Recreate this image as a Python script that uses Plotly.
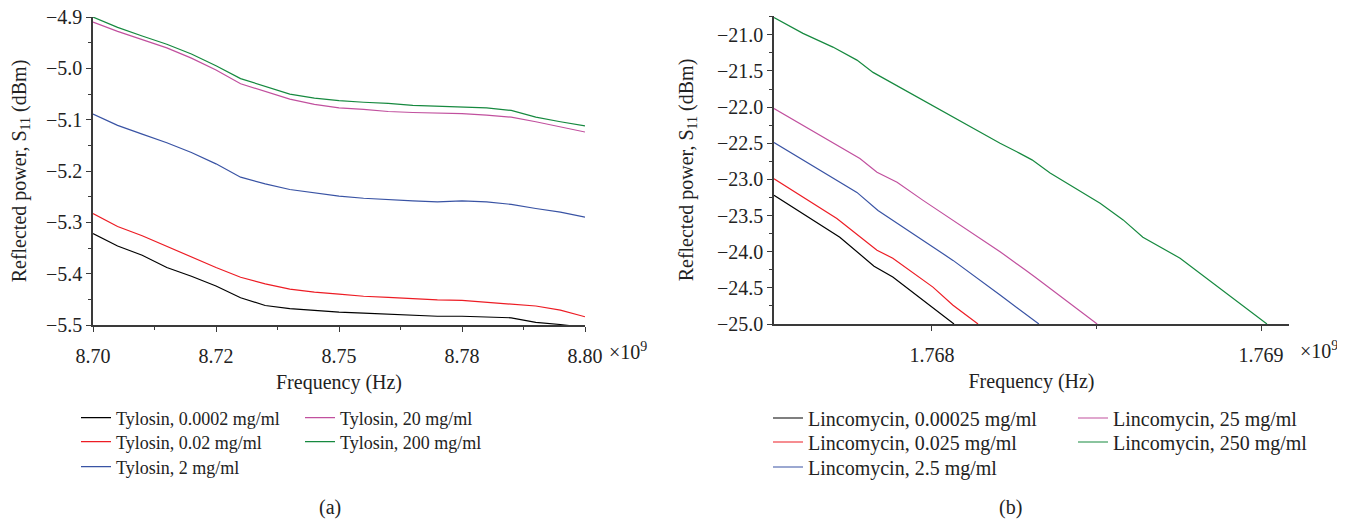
#################### Imports ####################
import plotly.graph_objects as go
from plotly.subplots import make_subplots

#################### Data ####################
# (a) Tylosin, frequency in units of 1e9 Hz
freq_a = [8.700, 8.705, 8.710, 8.715, 8.720, 8.725, 8.730, 8.735, 8.740, 8.745, 8.750,
          8.755, 8.760, 8.765, 8.770, 8.775, 8.780, 8.785, 8.790, 8.795, 8.800]
tyl_0p0002 = [-5.322, -5.346, -5.364, -5.388, -5.405, -5.424, -5.447, -5.462, -5.468, -5.472, -5.475,
              -5.477, -5.479, -5.481, -5.483, -5.483, -5.484, -5.486, -5.495, -5.499, -5.505]
tyl_0p02 = [-5.283, -5.308, -5.326, -5.347, -5.367, -5.388, -5.407, -5.420, -5.430, -5.436, -5.440,
            -5.444, -5.446, -5.449, -5.451, -5.452, -5.456, -5.459, -5.463, -5.471, -5.484]
tyl_2 = [-5.089, -5.111, -5.128, -5.145, -5.164, -5.186, -5.212, -5.225, -5.236, -5.243, -5.249,
         -5.253, -5.256, -5.258, -5.260, -5.258, -5.260, -5.265, -5.273, -5.280, -5.290]
tyl_20 = [-4.910, -4.928, -4.944, -4.960, -4.980, -5.003, -5.030, -5.045, -5.060, -5.070, -5.077,
          -5.080, -5.084, -5.086, -5.087, -5.088, -5.091, -5.095, -5.104, -5.114, -5.124]
tyl_200 = [-4.900, -4.920, -4.937, -4.953, -4.972, -4.995, -5.020, -5.035, -5.050, -5.058, -5.063,
           -5.066, -5.068, -5.072, -5.074, -5.075, -5.077, -5.082, -5.095, -5.104, -5.112]

# (b) Lincomycin
lin_0p00025_x = [1.767520, 1.767720, 1.767824, 1.767881, 1.768067]
lin_0p00025_y = [-23.22, -23.80, -24.20, -24.35, -25.00]
lin_0p025_x = [1.767520, 1.767711, 1.767833, 1.767881, 1.768003, 1.768064, 1.768140]
lin_0p025_y = [-22.99, -23.54, -23.98, -24.09, -24.49, -24.74, -25.00]
lin_2p5_x = [1.767520, 1.767660, 1.767772, 1.767836, 1.768064, 1.768207, 1.768267, 1.768325]
lin_2p5_y = [-22.49, -22.87, -23.18, -23.43, -24.12, -24.60, -24.80, -25.00]
lin_25_x = [1.767520, 1.767781, 1.767833, 1.767894, 1.767973, 1.768207, 1.768283, 1.768313, 1.768502]
lin_25_y = [-22.02, -22.71, -22.90, -23.04, -23.29, -24.00, -24.25, -24.35, -25.00]
lin_250_x = [1.767520, 1.767608, 1.767699, 1.767772, 1.767821, 1.768207, 1.768267, 1.768304,
             1.768359, 1.768410, 1.768511, 1.768581, 1.768641, 1.768754, 1.768815, 1.768936, 1.769018]
lin_250_y = [-20.76, -20.98, -21.17, -21.35, -21.52, -22.50, -22.64, -22.73,
             -22.91, -23.05, -23.33, -23.56, -23.80, -24.09, -24.30, -24.71, -25.00]

names_a = ["Tylosin, 0.0002 mg/ml", "Tylosin, 0.02 mg/ml", "Tylosin, 2 mg/ml",
           "Tylosin, 20 mg/ml", "Tylosin, 200 mg/ml"]
names_b = ["Lincomycin, 0.00025 mg/ml", "Lincomycin, 0.025 mg/ml", "Lincomycin, 2.5 mg/ml",
           "Lincomycin, 25 mg/ml", "Lincomycin, 250 mg/ml"]
colors = ["#000000", "#ed1c24", "#3953a4", "#c1509e", "#16893f"]

xticks_a = [8.700, 8.725, 8.750, 8.775, 8.800]
xticktext_a = ["8.70", "8.72", "8.75", "8.78", "8.80"]
yticks_a = [-5.5, -5.4, -5.3, -5.2, -5.1, -5.0, -4.9]
xticks_b = [1.768, 1.769]
xticktext_b = ["1.768", "1.769"]
yticks_b = [-25.0, -24.5, -24.0, -23.5, -23.0, -22.5, -22.0, -21.5, -21.0]

#################### Figure ####################
# the page adds an 8 px body margin, so the figure is a bit smaller than the window
OFF = 8
W, H = 1345 - OFF, 521 - OFF
FONT = "Liberation Serif"
AX = "#3a3a3a"


def px_x(p):
    return (p - OFF) / W


def px_y(p):
    return 1 - (p - OFF) / H


fig = make_subplots(rows=1, cols=2)

# one small legend per entry so that the two-column layout can be placed freely
# (column x in px, row centre y in px)
legend_cols_a = [76, 76, 76, 300, 300]
legend_cols_b = [768, 768, 768, 1073, 1073]
legend_rows = [418, 442, 467, 418, 442]

series_a = [tyl_0p0002, tyl_0p02, tyl_2, tyl_20, tyl_200]
for i, ys in enumerate(series_a):
    fig.add_trace(
        go.Scatter(
            x=freq_a,
            y=ys,
            mode="lines",
            name=names_a[i],
            line=dict(color=colors[i], width=1.2),
            legend="legend" if i == 0 else "legend%d" % (i + 1),
        ),
        row=1,
        col=1,
    )

series_b = [
    (lin_0p00025_x, lin_0p00025_y),
    (lin_0p025_x, lin_0p025_y),
    (lin_2p5_x, lin_2p5_y),
    (lin_25_x, lin_25_y),
    (lin_250_x, lin_250_y),
]
for i, (xs, ys) in enumerate(series_b):
    fig.add_trace(
        go.Scatter(
            x=xs,
            y=ys,
            mode="lines",
            name=names_b[i],
            line=dict(color=colors[i], width=1.2),
            legend="legend%d" % (i + 6),
        ),
        row=1,
        col=2,
    )

axis_common = dict(
    automargin=False,
    ticklabeloverflow="allow",
    showgrid=False,
    zeroline=False,
    showline=True,
    linecolor=AX,
    linewidth=1.5,
    ticks="outside",
    ticklen=5,
    tickwidth=1.2,
    tickcolor=AX,
    tickfont=dict(family=FONT, size=20, color="#222"),
    title_font=dict(family=FONT, size=20, color="#222"),
)

legend_common = dict(
    orientation="v",
    xanchor="left",
    yanchor="middle",
    bgcolor="rgba(0,0,0,0)",
    itemwidth=30,
)

legends = {}
for i in range(10):
    key = "legend" if i == 0 else "legend%d" % (i + 1)
    xp = legend_cols_a[i] if i < 5 else legend_cols_b[i - 5]
    yp = legend_rows[i % 5]
    size = 18 if i < 5 else 20
    legends[key] = dict(legend_common, x=px_x(xp), y=px_y(yp),
                        font=dict(family=FONT, size=size, color="#222"))

fig.update_layout(
    width=W,
    height=H,
    margin=dict(l=0, r=0, t=0, b=0),
    paper_bgcolor="white",
    plot_bgcolor="white",
    showlegend=True,
    **legends,
)

# Axes (a)
fig.update_xaxes(
    axis_common,
    domain=[px_x(93), px_x(585)],
    range=[8.70, 8.80],
    tickmode="array",
    tickvals=xticks_a,
    ticktext=xticktext_a,
    ticklabelstandoff=7,
    minor=dict(ticks="outside", ticklen=3, tickcolor=AX,
               tickvals=[8.7125, 8.7375, 8.7625, 8.7875]),
    title_text="Frequency (Hz)",
    title_standoff=9,
    row=1,
    col=1,
)
fig.update_yaxes(
    axis_common,
    domain=[px_y(325), px_y(17)],
    range=[-5.5, -4.8999],
    tickmode="array",
    tickvals=yticks_a,
    tickformat=".1f",
    minor=dict(ticks="outside", ticklen=3, tickcolor=AX,
               tickvals=[-5.45, -5.35, -5.25, -5.15, -5.05, -4.95]),
    title_text="Reflected power, S<sub>11</sub> (dBm)",
    title_standoff=14,
    row=1,
    col=1,
)

# Axes (b)
fig.update_xaxes(
    axis_common,
    domain=[px_x(774), px_x(1289)],
    range=[1.767520, 1.769085],
    tickmode="array",
    tickvals=xticks_b,
    ticktext=xticktext_b,
    ticklabelstandoff=7,
    minor=dict(ticks="outside", ticklen=3, tickcolor=AX, tickvals=[1.7685]),
    title_text="Frequency (Hz)",
    title_standoff=9,
    row=1,
    col=2,
)
fig.update_yaxes(
    axis_common,
    domain=[px_y(324), px_y(16)],
    range=[-25.0, -20.74],
    tickmode="array",
    tickvals=yticks_b,
    tickformat=".1f",
    minor=dict(ticks="outside", ticklen=3, tickcolor=AX,
               tickvals=[-24.75, -24.25, -23.75, -23.25, -22.75, -22.25, -21.75, -21.25, -20.75]),
    title_text="Reflected power, S<sub>11</sub> (dBm)",
    title_standoff=18,
    row=1,
    col=2,
)

# Exponent labels and panel captions
notes = [
    ("\u00d710<sup>9</sup>", 607, 351, "left"),
    ("\u00d710<sup>9</sup>", 1298, 350, "left"),
    ("(a)", 330, 507, "center"),
    ("(b)", 1010, 507, "center"),
]
for txt, xp, yp, anchor in notes:
    fig.add_annotation(
        text=txt,
        x=px_x(xp),
        y=px_y(yp),
        xref="paper",
        yref="paper",
        xanchor=anchor,
        yanchor="middle",
        showarrow=False,
        font=dict(family=FONT, size=20, color="#222"),
    )

fig.write_html("out.html")
